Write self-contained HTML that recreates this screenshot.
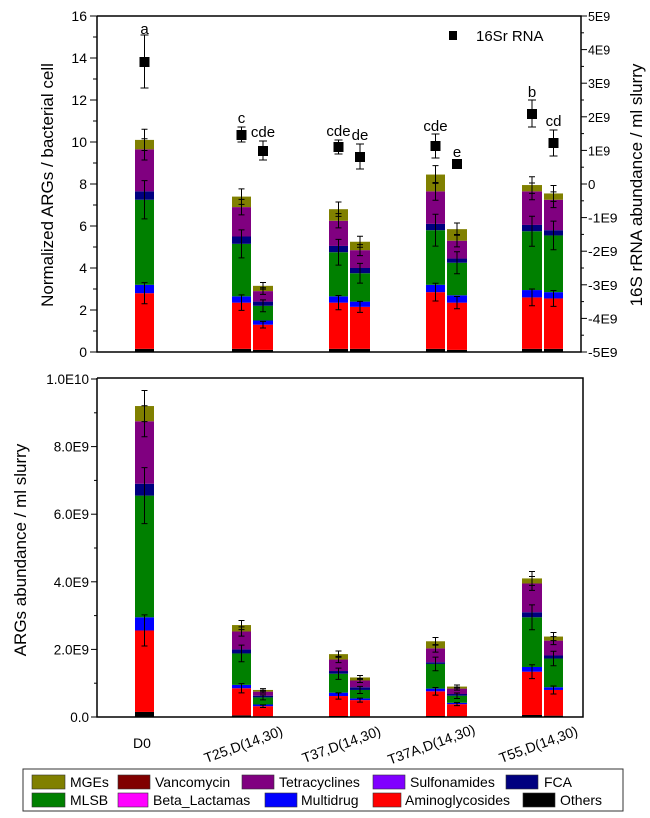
<!DOCTYPE html>
<html><head><meta charset="utf-8"><style>
html,body{margin:0;padding:0;background:#fff;}
svg{display:block;font-family:"Liberation Sans",sans-serif;}
</style></head><body>
<svg id="c" width="650" height="818" viewBox="0 0 650 818" xmlns="http://www.w3.org/2000/svg"></svg>
<script>
var S=document.getElementById('c'),h='';
var C={o:'#000',r:'#ff0000',b:'#0000ff',g:'#008000',n:'#00007f',p:'#800080',m:'#808000'};
var X=[[135,154],[232,251],[253,273],[329,348],[350,370],[426,445],[447,467],[522,542],[544,563]];
function bars(data,y0,sc){
 data.forEach(function(d,i){
  var x1=X[i][0],w=X[i][1]-X[i][0],prev=0;
  var keys=['o','r','b','g','n','p','m'];
  d.forEach(function(v,k){
   var ya=y0-v*sc,yb=y0-prev*sc;
   h+='<rect x="'+x1+'" y="'+ya+'" width="'+w+'" height="'+(yb-ya)+'" fill="'+C[keys[k]]+'"/>';
   prev=v;});
  var cx=x1+w/2;
  [1,3,5,6].forEach(function(k){var yv=y0-d[k]*sc,e=(k==3?0.09:0.05)*d[6]*sc;
   h+='<path d="M'+cx+' '+(yv-e)+'V'+(yv+e)+'M'+(cx-3)+' '+(yv-e)+'h6M'+(cx-3)+' '+(yv+e)+'h6" stroke="#000" stroke-width="1"/>';});
 });
}
var T=[[0.15,2.8,3.2,7.25,7.65,9.65,10.1],[0.15,2.35,2.65,5.15,5.5,6.9,7.4],[0.1,1.3,1.5,2.2,2.4,2.9,3.15],
[0.15,2.35,2.65,4.75,5.05,6.25,6.8],[0.15,2.15,2.4,3.75,4.0,4.85,5.25],[0.15,2.85,3.2,5.8,6.1,7.65,8.45],
[0.1,2.35,2.7,4.25,4.45,5.3,5.85],[0.15,2.6,2.95,5.75,6.05,7.65,7.95],[0.15,2.55,2.85,5.55,5.8,7.25,7.55]];
bars(T,352,21);
h+='<path d="M97 16V352H581V16H97" fill="none" stroke="#000" stroke-width="1.5"/>';
for(var v=0;v<=16;v++){var y=352-v*21;h+='<line x1="'+(v%2?93:90)+'" x2="97" y1="'+y+'" y2="'+y+'" stroke="#000"/>';
 if(v%2==0)h+='<text x="87" y="'+(y+5)+'" font-size="14" text-anchor="end">'+v+'</text>';}
var RL=['-5E9','-4E9','-3E9','-2E9','-1E9','0','1E9','2E9','3E9','4E9','5E9'];
for(var i=0;i<=20;i++){var y=352-i*16.8;h+='<line x1="581" x2="'+(i%2?584:587)+'" y1="'+y+'" y2="'+y+'" stroke="#000"/>';
 if(i%2==0)h+='<text x="588" y="'+(y+5)+'" font-size="13" textLength="'+(RL[i/2].length*7.4)+'" lengthAdjust="spacingAndGlyphs">'+RL[i/2]+'</text>';}
var M=[[62,35,88,'a',29],[135,127,142,'c',118],[151,141,160,'cde',132],[147,140,154,'cde',131],[157,144,169,'de',135],
[146,134,158,'cde',126],[164,164,164,'e',152],[114,100,127,'b',92],[143,130,156,'cd',121]];
M.forEach(function(m,i){var cx=(X[i][0]+X[i][1])/2;
 if(m[1]!=m[2])h+='<path d="M'+cx+' '+m[1]+'V'+m[2]+'M'+(cx-4)+' '+m[1]+'h8M'+(cx-4)+' '+m[2]+'h8" stroke="#000"/>';
 h+='<rect x="'+(cx-5)+'" y="'+(m[0]-5)+'" width="10" height="10" fill="#000"/>';
 h+='<text x="'+cx+'" y="'+(m[4]+5)+'" font-size="15" text-anchor="middle">'+m[3]+'</text>';});
h+='<rect x="449" y="31" width="8" height="9" fill="#000"/><text x="476" y="41" font-size="15">16Sr RNA</text>';
h+='<text transform="translate(53,185) rotate(-90)" font-size="17" text-anchor="middle">Normalized ARGs / bacterial cell</text>';
h+='<text transform="translate(642,185) rotate(-90)" font-size="17" text-anchor="middle">16S rRNA abundance / ml slurry</text>';
var B=[[0.15,2.56,2.95,6.55,6.9,8.75,9.2],[0.05,0.85,0.95,1.88,2.0,2.53,2.72],[0.02,0.32,0.37,0.58,0.63,0.75,0.8],
[0.03,0.62,0.72,1.28,1.36,1.7,1.86],[0.02,0.5,0.55,0.8,0.88,1.08,1.17],[0.03,0.76,0.84,1.57,1.62,2.03,2.24],
[0.02,0.38,0.42,0.63,0.68,0.84,0.9],[0.06,1.34,1.48,2.95,3.1,3.95,4.1],[0.04,0.8,0.88,1.73,1.82,2.26,2.38]];
bars(B,717,33.8);
h+='<path d="M97 378V717H583V378H97" fill="none" stroke="#000" stroke-width="1.5"/>';
var BL=['0.0','2.0E9','4.0E9','6.0E9','8.0E9','1.0E10'];
for(var i=0;i<=10;i++){var y=717-i*33.8;h+='<line x1="'+(i%2?94:91)+'" x2="97" y1="'+y+'" y2="'+y+'" stroke="#000"/>';
 if(i%2==0)h+='<text x="89" y="'+(y+5)+'" font-size="13.5" text-anchor="end">'+BL[i/2]+'</text>';}
h+='<text transform="translate(26,550) rotate(-90)" font-size="17" text-anchor="middle">ARGs abundance / ml slurry</text>';
h+='<text x="142" y="748" font-size="14" text-anchor="middle">D0</text>';
[['T25,D(14,30)',245],['T37,D(14,30)',343],['T37A,D(14,30)',433],['T55,D(14,30)',540]].forEach(function(l){
 h+='<text transform="translate('+l[1]+',749) rotate(-20)" font-size="14" text-anchor="middle">'+l[0]+'</text>';});
h+='<rect x="23" y="769" width="600" height="42" fill="#fff" stroke="#333" stroke-width="1"/>';
var L=[[32,65,70,782,'#808000','MGEs'],[118,150,155,782,'#800000','Vancomycin'],[242,274,279,782,'#800080','Tetracyclines'],
[373,405,410,782,'#8000ff','Sulfonamides'],[506,538,544,782,'#00007f','FCA'],
[32,65,70,800,'#008000','MLSB'],[118,148,153,800,'#ff00ff','Beta_Lactamas'],[265,297,301,800,'#0000ff','Multidrug'],
[373,401,405,800,'#ff0000','Aminoglycosides'],[523,555,560,800,'#000000','Others']];
L.forEach(function(l){h+='<rect x="'+l[0]+'" y="'+(l[3]-7)+'" width="'+(l[1]-l[0])+'" height="14" fill="'+l[4]+'" stroke="#333" stroke-width="0.6"/>';
 h+='<text x="'+l[2]+'" y="'+(l[3]+5)+'" font-size="14">'+l[5]+'</text>';});
S.innerHTML=h;
</script>
</body></html>
